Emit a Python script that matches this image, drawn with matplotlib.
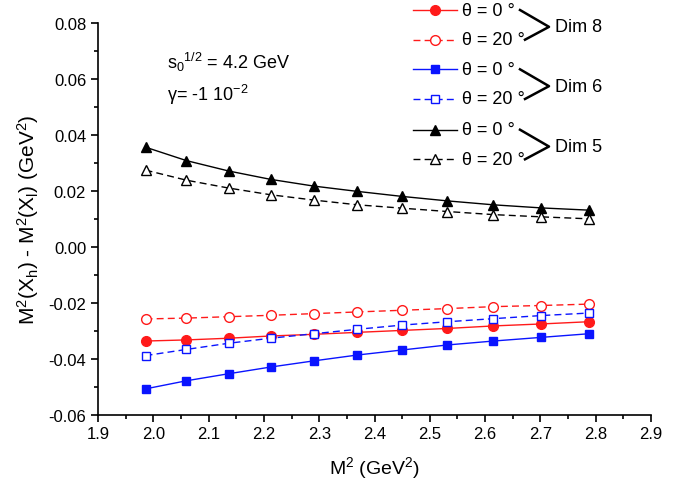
import matplotlib
matplotlib.use("Agg")
import matplotlib.pyplot as plt
from matplotlib.lines import Line2D
from matplotlib.ticker import MultipleLocator, FormatStrFormatter

plt.rcParams["font.family"] = ["Liberation Sans", "DejaVu Sans"]
plt.rcParams["mathtext.default"] = "regular"
plt.rcParams["axes.unicode_minus"] = False

# M^2 (GeV^2)
m2 = [1.986, 2.060, 2.136, 2.212, 2.290, 2.369, 2.450, 2.532, 2.615, 2.701, 2.787]

dim8_th0 = [-0.0337, -0.0333, -0.0327, -0.0319, -0.0313, -0.0306, -0.0299, -0.0292, -0.0283, -0.0276, -0.0268]
dim8_th20 = [-0.0258, -0.0255, -0.0250, -0.0245, -0.0239, -0.0233, -0.0227, -0.0221, -0.0214, -0.0210, -0.0205]
dim6_th0 = [-0.0508, -0.0479, -0.0454, -0.0430, -0.0408, -0.0387, -0.0369, -0.0351, -0.0337, -0.0324, -0.0311]
dim6_th20 = [-0.0389, -0.0367, -0.0345, -0.0327, -0.0311, -0.0295, -0.0280, -0.0268, -0.0257, -0.0246, -0.0237]
dim5_th0 = [0.0356, 0.0308, 0.0271, 0.0241, 0.0217, 0.0198, 0.0180, 0.0164, 0.0150, 0.0139, 0.0131]
dim5_th20 = [0.0274, 0.0238, 0.0210, 0.0186, 0.0167, 0.0150, 0.0138, 0.0126, 0.0115, 0.0107, 0.0100]

groups = ["Dim 8", "Dim 6", "Dim 5"]
angle_labels = ["θ = 0 °", "θ = 20 °"]

W, H = 688, 489
fig = plt.figure(figsize=(W / 100, H / 100), dpi=100)
ax = fig.add_axes([98 / W, 1 - 415.6 / H, (651 - 98) / W, (415.6 - 24) / H])

# (data, colour, marker, filled, dashed)
series = [
    (dim8_th0, "#ff1a1a", "o", True, False),
    (dim8_th20, "#ff1a1a", "o", False, True),
    (dim6_th0, "#0a14ff", "s", True, False),
    (dim6_th20, "#0a14ff", "s", False, True),
    (dim5_th0, "black", "^", True, False),
    (dim5_th20, "black", "^", False, True),
]
msize = {"o": 7, "s": 6, "^": 7.5}


def style(col, mk, filled, dashed):
    return dict(color=col, lw=1.0, ls=(0, (5, 3)) if dashed else "-",
                marker=mk, ms=msize[mk], mec=col,
                mfc=col if filled else "white", mew=1.0)


for y, col, mk, filled, dashed in series:
    ax.plot(m2, y, **style(col, mk, filled, dashed))

ax.set_xlim(1.9, 2.9)
ax.set_ylim(-0.06, 0.08)
ax.xaxis.set_major_locator(MultipleLocator(0.1))
ax.xaxis.set_minor_locator(MultipleLocator(0.05))
ax.yaxis.set_major_locator(MultipleLocator(0.02))
ax.yaxis.set_minor_locator(MultipleLocator(0.01))
ax.xaxis.set_major_formatter(FormatStrFormatter("%.1f"))
ax.yaxis.set_major_formatter(FormatStrFormatter("%.2f"))
ax.spines["top"].set_visible(False)
ax.spines["right"].set_visible(False)
for s in ("left", "bottom"):
    ax.spines[s].set_linewidth(1.2)
ax.tick_params(which="major", direction="out", length=5, width=1.2, labelsize=12)
ax.tick_params(which="minor", direction="out", length=3, width=1.2)

ax.set_xlabel("M$^2$ (GeV$^2$)", fontsize=14, labelpad=9)
ax.set_ylabel("M$^2$(X$_h$) - M$^2$(X$_l$) (GeV$^2$)", fontsize=15, labelpad=5)

fig.text(167 / W, 1 - 62 / H, "s$_0$$^{1/2}$ = 4.2 GeV", fontsize=13, va="center")
fig.text(167 / W, 1 - 95 / H, "γ= -1 10$^{-2}$", fontsize=13, va="center")

# hand-made legend with brackets
row_y = [11, 40.7, 70.3, 100, 130.7, 160.3]
for i, (y, col, mk, filled, dashed) in enumerate(series):
    yy = 1 - row_y[i] / H
    st = style(col, mk, filled, dashed)
    st.pop("marker")
    fig.add_artist(Line2D([413 / W, 457 / W], [yy, yy], transform=fig.transFigure, **st))
    fig.add_artist(Line2D([435 / W], [yy], transform=fig.transFigure, ls="none",
                          marker=mk, ms=msize[mk], mec=col,
                          mfc=col if filled else "white", mew=1.0))
    fig.text(462 / W, yy, angle_labels[i % 2], fontsize=13, va="center")

for g, name in enumerate(groups):
    y0 = row_y[2 * g]
    y1 = row_y[2 * g + 1]
    ym = (y0 + y1) / 2 + 2
    fig.add_artist(Line2D([520 / W, 549 / W, 525 / W],
                          [1 - y0 / H, 1 - ym / H, 1 - y1 / H],
                          transform=fig.transFigure, color="black", lw=1.8))
    fig.text(555 / W, 1 - ym / H, name, fontsize=13, va="center")

fig.savefig("out.png", dpi=100)
